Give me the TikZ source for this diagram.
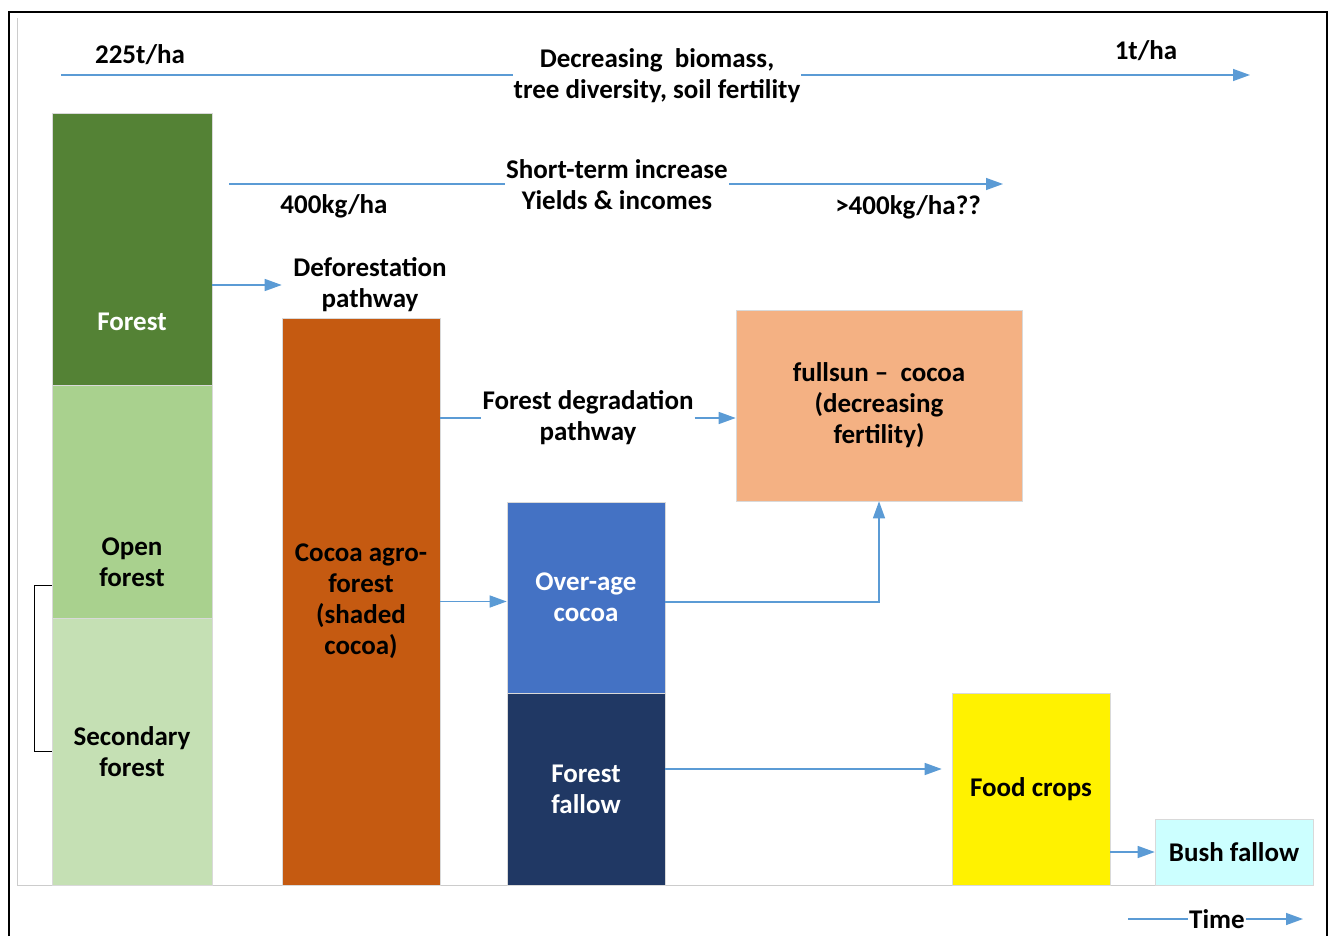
\documentclass[tikz,border=0pt]{standalone}
\usepackage{fontspec}
\setmainfont{Carlito}
\usepackage{xcolor}
\usetikzlibrary{arrows.meta, positioning, calc}

\definecolor{linkblue}{HTML}{5B9BD5}
\definecolor{forestgreen}{HTML}{548235}
\definecolor{opengreen}{HTML}{A9D18E}
\definecolor{secgreen}{HTML}{C5E0B4}
\definecolor{cocoabrown}{HTML}{C55A11}
\definecolor{overblue}{HTML}{4472C4}
\definecolor{fallowblue}{HTML}{203864}
\definecolor{fullsunorange}{HTML}{F4B183}
\definecolor{bushcyan}{HTML}{CCFFFF}

\begin{document}
\begin{tikzpicture}[x=1pt, y=-1pt,
    box/.style={draw=gray!30, line width=0.6pt, minimum width=158pt, align=center, inner sep=0pt, font=\fontsize{27}{31}\selectfont\bfseries},
    lbl/.style={align=center, inner sep=1pt, font=\fontsize{27}{31}\selectfont\bfseries},
    link/.style={line width=1.4pt, linkblue},
    arrow/.style={link, -{Triangle[length=17pt, width=12pt]}}
]
    \useasboundingbox (0,0) rectangle (1329,936);

    % frame and axes
    \draw[line width=2pt] (9,936) -- (9,12) -- (1327,12) -- (1327,936);
    \draw[gray!40, line width=1pt] (17,18) -- (17,885) -- (1287,885);

    % Forest column
    \node[box, fill=forestgreen, text=white, minimum width=160pt, minimum height=417pt] (forest) at (132,321.5) {Forest};
    \node[box, fill=opengreen, minimum width=160pt, minimum height=355pt] (open) at (132,562.5) {Open\\forest};
    \node[box, fill=secgreen, minimum width=160pt, minimum height=267pt] (sec) at (132,751.5) {Secondary\\forest};
    \draw[line width=1pt] ([yshift=-22.5pt]open.west) -- ++(-17,0) |- (sec.west);

    % land uses
    \node[box, fill=cocoabrown, minimum height=567pt] (cocoa) at (361,601.5) {Cocoa agro-\\forest\\(shaded\\cocoa)};
    \node[box, fill=overblue, text=white, minimum height=191pt] (over) at (586,597.5) {Over-age\\cocoa};
    \node[box, fill=fallowblue, text=white, minimum height=192pt] (fallow) at (586,789) {Forest\\fallow};
    \node[box, fill=fullsunorange, minimum width=286pt, minimum height=191pt] (fullsun) at (879,405.5) {fullsun -- ~cocoa\\(decreasing\\fertility)};
    \node[box, fill=yellow, minimum height=192pt] (food) at (1031,789) {Food crops};
    \node[box, fill=bushcyan, minimum height=66pt] (bush) at (1234,852) {Bush fallow};

    % trends at the top
    \node[lbl] (decr) at (657,76) {Decreasing~ biomass,\\tree diversity, soil fertility};
    \coordinate (decrS) at (61,75);
    \coordinate (decrE) at (1250,75);
    \draw[link] (decrS) -- (decrS -| decr.west);
    \draw[arrow] (decrE -| decr.east) -- (decrE);
    \node[lbl] (high) at (140,55) {225t/ha};
    \node[lbl] (low) at (1146,51) {1t/ha};

    \node[lbl] (incr) at (617,185) {Short-term increase\\Yields \& incomes};
    \coordinate (incrS) at (229,184);
    \coordinate (incrE) at (1003,184);
    \draw[link] (incrS) -- (incrS -| incr.west);
    \draw[arrow] (incrE -| incr.east) -- (incrE);
    \node[lbl] (yieldA) at (334,206) {400kg/ha};
    \node[lbl] (yieldB) at (908,207) {>400kg/ha??};

    % pathways
    \node[lbl] (defo) at (370,285) {Deforestation\\pathway};
    \draw[arrow] (forest.east |- defo.west) -- (cocoa.west |- defo.west);

    \node[lbl] (degr) at (588,418) {Forest degradation\\pathway};
    \draw[link] (cocoa.east |- degr.west) -- (degr.west);
    \draw[arrow] (degr.east) -- (fullsun.west |- degr.east);

    \draw[arrow] (cocoa.east) -- (over.west |- cocoa.east);
    \draw[arrow] ([yshift=-4.5pt]over.east) -| (fullsun.south);
    \draw[arrow] ([yshift=20pt]fallow.east) -- ([yshift=20pt, xshift=-10pt]food.west);
    \draw[arrow] (food.east |- bush.west) -- (bush.west);

    % time axis
    \node[lbl] (time) at (1217,919) {Time};
    \coordinate (timeS) at (1128,919);
    \coordinate (timeE) at (1303,919);
    \draw[link] (timeS) -- (time.west);
    \draw[arrow] (time.east) -- (timeE);
\end{tikzpicture}
\end{document}
